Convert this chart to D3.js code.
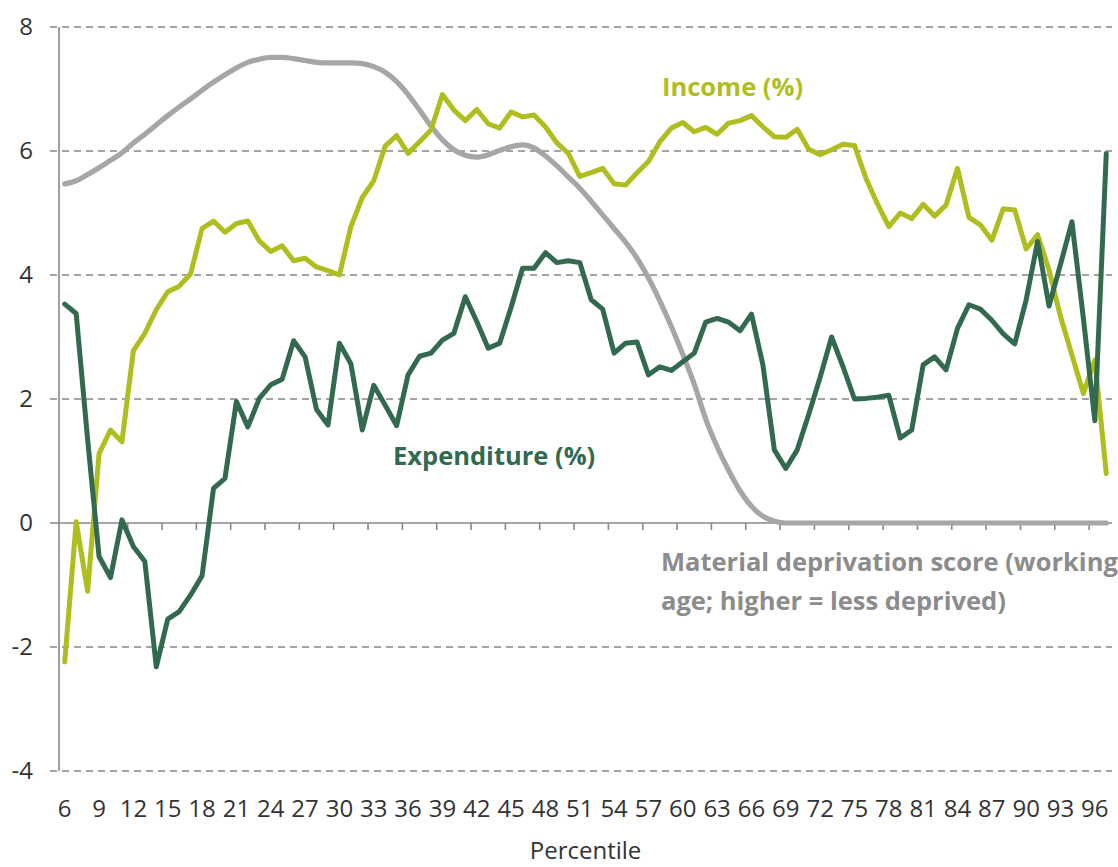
<!DOCTYPE html>
<html>
<head>
<meta charset="utf-8">
<script src="https://cdn.jsdelivr.net/npm/d3@7"></script>
<style>
  html, body { margin: 0; padding: 0; background: #fff; }
  svg { display: block; font-family: "Open Sans", "Noto Sans", sans-serif; }
</style>
</head>
<body>
<svg id="chart" width="1118" height="867"></svg>
<script>
// ---- data ----
const percentiles = d3.range(6, 98); // 6..97
const incomeValues = [
  -2.24, 0.02, -1.10, 1.12, 1.50, 1.31, 2.78, 3.06, 3.44, 3.73,
  3.82, 4.02, 4.75, 4.87, 4.69, 4.83, 4.87, 4.55, 4.38, 4.47,
  4.23, 4.27, 4.13, 4.07, 4.00, 4.78, 5.25, 5.52, 6.08, 6.25,
  5.96, 6.15, 6.34, 6.91, 6.66, 6.49, 6.67, 6.44, 6.37, 6.63,
  6.55, 6.58, 6.39, 6.13, 5.96, 5.59, 5.65, 5.72, 5.47, 5.45,
  5.65, 5.83, 6.15, 6.37, 6.46, 6.31, 6.38, 6.27, 6.45, 6.49,
  6.57, 6.39, 6.23, 6.22, 6.35, 6.03, 5.94, 6.02, 6.11, 6.09,
  5.56, 5.15, 4.78, 5.00, 4.91, 5.14, 4.95, 5.13, 5.72, 4.93,
  4.81, 4.56, 5.07, 5.05, 4.42, 4.65, 4.08, 3.33, 2.71, 2.09,
  2.63, 0.80
];
const expenditureValues = [
  3.53, 3.38, 1.35, -0.54, -0.88, 0.05, -0.38, -0.62, -2.32, -1.55,
  -1.43, -1.16, -0.85, 0.56, 0.72, 1.96, 1.55, 2.01, 2.23, 2.32,
  2.94, 2.68, 1.83, 1.58, 2.90, 2.57, 1.50, 2.22, 1.90, 1.57,
  2.39, 2.69, 2.74, 2.95, 3.06, 3.65, 3.25, 2.82, 2.90, 3.48,
  4.11, 4.11, 4.36, 4.20, 4.23, 4.20, 3.60, 3.45, 2.74, 2.90,
  2.92, 2.39, 2.52, 2.46, 2.60, 2.74, 3.24, 3.30, 3.24, 3.10,
  3.37, 2.55, 1.18, 0.88, 1.18, 1.75, 2.35, 3.00, 2.52, 2.00,
  2.01, 2.03, 2.06, 1.37, 1.50, 2.55, 2.68, 2.47, 3.14, 3.52,
  3.45, 3.27, 3.05, 2.89, 3.60, 4.54, 3.50, 4.17, 4.86, 3.30,
  1.65, 5.96
];
const deprivationValues = [
  5.47, 5.52, 5.62, 5.73, 5.85, 5.97, 6.13, 6.27, 6.42, 6.57,
  6.71, 6.84, 6.98, 7.11, 7.23, 7.34, 7.43, 7.48, 7.51, 7.51,
  7.49, 7.46, 7.43, 7.42, 7.42, 7.42, 7.41, 7.36, 7.27, 7.12,
  6.91, 6.66, 6.40, 6.18, 6.02, 5.93, 5.90, 5.94, 6.01, 6.07,
  6.10, 6.05, 5.92, 5.76, 5.58, 5.40, 5.19, 4.97, 4.75, 4.53,
  4.27, 3.95, 3.58, 3.17, 2.72, 2.24, 1.68, 1.23, 0.85, 0.52,
  0.27, 0.11, 0.03, 0.00, 0.00, 0.00, 0.00, 0.00, 0.00, 0.00,
  0.00, 0.00, 0.00, 0.00, 0.00, 0.00, 0.00, 0.00, 0.00, 0.00,
  0.00, 0.00, 0.00, 0.00, 0.00, 0.00, 0.00, 0.00, 0.00, 0.00,
  0.00, 0.00
];
const yTicks = [-4, -2, 0, 2, 4, 6, 8];
const xTickLabels = d3.range(6, 97, 3); // 6, 9, ..., 96
const labels = {
  income: "Income (%)",
  expenditure: "Expenditure (%)",
  deprivation: ["Material deprivation score (working", "age; higher = less deprived)"],
  xTitle: "Percentile"
};

// ---- layout ----
const svg = d3.select("#chart");
const plotL = 59, plotR = 1112, plotT = 27, plotB = 771;
const x = d3.scaleBand().domain(percentiles).range([plotL, plotR]).paddingInner(0).paddingOuter(0);
const y = d3.scaleLinear().domain([-4, 8]).range([plotB, plotT]);
const cx = p => x(p) + x.bandwidth() / 2;

const colIncome = "#AFBE1E";
const colExp = "#336A4F";
const colGrey = "#A6A6A6";
const axisCol = "#878787";

// gridlines (dashed)
svg.append("g").selectAll("line").data(yTicks.filter(v => v !== 0)).join("line")
  .attr("x1", 50).attr("x2", plotR)
  .attr("y1", d => y(d)).attr("y2", d => y(d))
  .attr("stroke", axisCol).attr("stroke-width", 1.6)
  .attr("stroke-dasharray", "7,5");

// y axis line
svg.append("line").attr("x1", plotL).attr("x2", plotL).attr("y1", plotT).attr("y2", plotB)
  .attr("stroke", axisCol).attr("stroke-width", 1.6);

// zero axis (solid) with tick marks
svg.append("line").attr("x1", 50).attr("x2", plotR).attr("y1", y(0)).attr("y2", y(0))
  .attr("stroke", axisCol).attr("stroke-width", 1.6);
const tickIdx = d3.range(3, percentiles.length, 3);
svg.append("g").selectAll("line").data(tickIdx).join("line")
  .attr("x1", i => x(percentiles[i])).attr("x2", i => x(percentiles[i]))
  .attr("y1", y(0)).attr("y2", y(0) + 7)
  .attr("stroke", axisCol).attr("stroke-width", 1.6);

// y tick labels
svg.append("g").selectAll("text").data(yTicks).join("text")
  .attr("x", 33).attr("y", d => y(d))
  .attr("dy", "0.35em")
  .attr("text-anchor", "end")
  .attr("font-size", 24).attr("fill", "#333")
  .text(d => d);

// x tick labels
svg.append("g").selectAll("text").data(xTickLabels).join("text")
  .attr("x", d => cx(d)).attr("y", 817)
  .attr("text-anchor", "middle")
  .attr("font-size", 24).attr("fill", "#333")
  .text(d => d);

// x title
svg.append("text").attr("x", (plotL + plotR) / 2).attr("y", 859)
  .attr("text-anchor", "middle").attr("font-size", 24).attr("fill", "#333")
  .text(labels.xTitle);

// lines
const lineStraight = d3.line().x((d, i) => cx(percentiles[i])).y(d => y(d));
const lineSmooth = d3.line().x((d, i) => cx(percentiles[i])).y(d => y(d)).curve(d3.curveMonotoneX);

svg.append("path").datum(deprivationValues).attr("d", lineSmooth)
  .attr("fill", "none").attr("stroke", colGrey).attr("stroke-width", 5.2)
  .attr("stroke-linejoin", "round").attr("stroke-linecap", "round");
svg.append("path").datum(incomeValues).attr("d", lineStraight)
  .attr("fill", "none").attr("stroke", colIncome).attr("stroke-width", 5)
  .attr("stroke-linejoin", "round").attr("stroke-linecap", "round");
svg.append("path").datum(expenditureValues).attr("d", lineStraight)
  .attr("fill", "none").attr("stroke", colExp).attr("stroke-width", 5)
  .attr("stroke-linejoin", "round").attr("stroke-linecap", "round");

// annotations
svg.append("text").attr("x", 662).attr("y", 96)
  .attr("font-size", 25.5).attr("font-weight", "bold").attr("fill", colIncome)
  .text(labels.income);
svg.append("text").attr("x", 393).attr("y", 465)
  .attr("font-size", 25.5).attr("font-weight", "bold").attr("fill", colExp)
  .text(labels.expenditure);
const dep = svg.append("text").attr("x", 661).attr("y", 571)
  .attr("font-size", 25.5).attr("font-weight", "bold").attr("fill", "#8C8C8C");
dep.selectAll("tspan").data(labels.deprivation).join("tspan")
  .attr("x", 661).attr("dy", (d, i) => i === 0 ? 0 : 39)
  .text(d => d);
</script>
</body>
</html>
